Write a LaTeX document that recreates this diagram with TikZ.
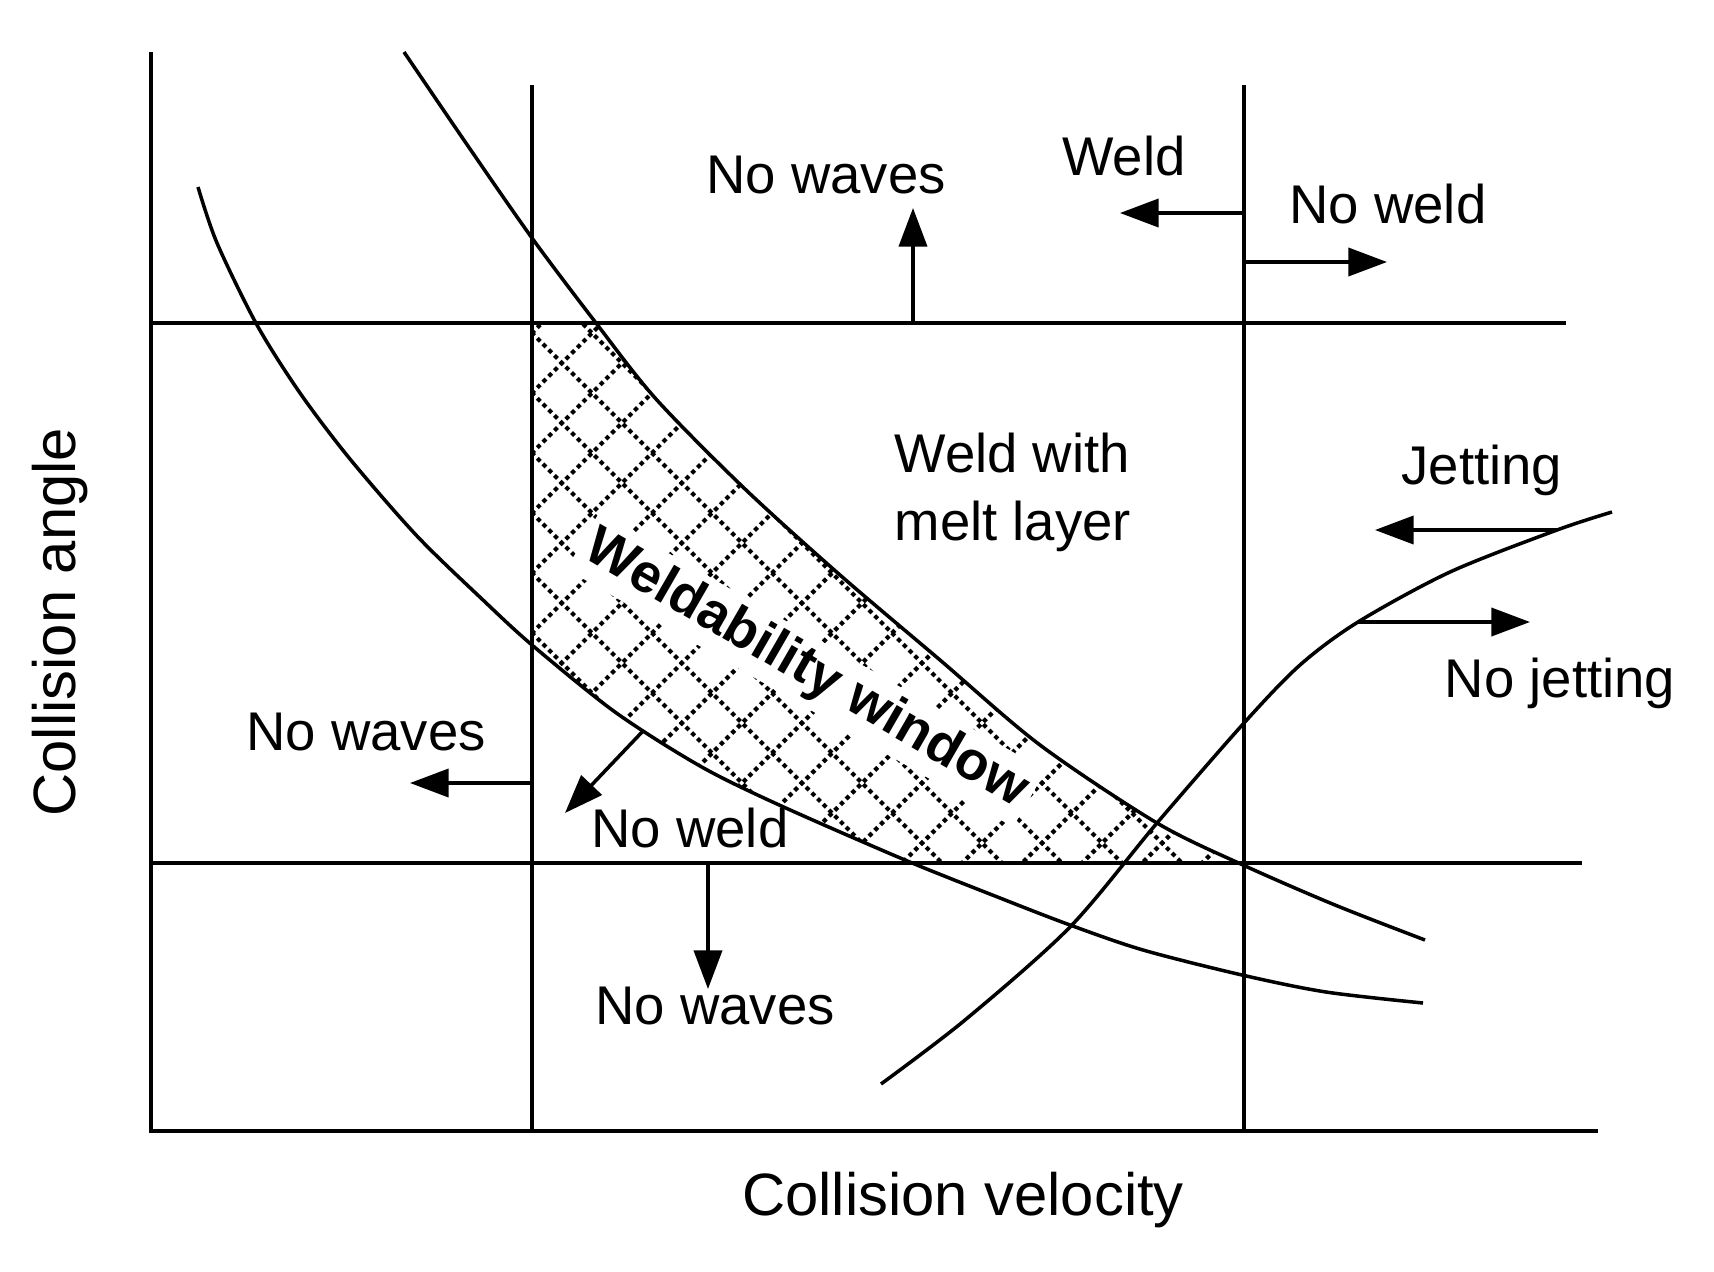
\documentclass[tikz,border=0pt]{standalone}
\usepackage{fontspec}
\setmainfont{Liberation Sans}
\usetikzlibrary{positioning,arrows.meta}

\tikzset{
  lbl/.style={inner sep=0pt,font=\fontsize{15.5}{19.3}\selectfont},
  axlbl/.style={inner sep=0pt,font=\fontsize{17}{20}\selectfont},
  arr/.style={line width=1pt,-{Triangle[length=11pt,width=8pt]}},
  hatch/.style={line width=1.2pt,dash pattern=on 1.2pt off 1.1pt},
}

\newcommand{\upperline}{plot[smooth] coordinates {(404,52) (468,146) (532,238) (596,323) (656,399) (745,489) (840,575) (940,660) (1040,745) (1157,823) (1243,865) (1335,905) (1425,940)}}
\newcommand{\lowerline}{plot[smooth] coordinates {(198,187) (217,243) (257,325) (300,393) (350,459) (417,536) (483,600) (532,645) (615,712) (700,766) (777,804) (905,860) (1000,898) (1070,925) (1143,950) (1242,975) (1326,992) (1423,1003)}}

\begin{document}
\begin{tikzpicture}[x=0.01cm,y=-0.01cm]
\useasboundingbox (0,0) rectangle (1714,1272);

% hatched window
\begin{scope}
\clip (532,323) rectangle (1244,863);
\clip \upperline -- (1425,1272) -- (0,1272) -- (0,52) -- cycle;
\clip \lowerline -- (1714,1003) -- (1714,0) -- (198,0) -- cycle;
\foreach \k in {-12,...,9}
  \draw[hatch] (400,{201+60*\k}) -- (1300,{1101+60*\k});
\foreach \k in {0,...,21}
  \draw[hatch] (400,{465+60*\k}) -- (1300,{-435+60*\k});
\end{scope}

\node[fill=white,inner sep=2pt,rotate=-30,font=\fontsize{15.5}{19}\selectfont\bfseries] (window) at (806,670) {Weldability window};

% frame lines
\draw[line width=1pt]
(151,323) coordinate (topL) --
(1566,323) coordinate (topR);
\draw[line width=1pt]
(151,863) coordinate (botL) --
(1582,863) coordinate (botR);
\draw[line width=1pt]
(532,85) coordinate (leftT) --
(532,1131) coordinate (leftB);
\draw[line width=1pt]
(1244,85) coordinate (rightT) --
(1244,1131) coordinate (rightB);

% axes
\draw[line width=1.4pt]
(151,52) coordinate (yend) --
(151,1131) coordinate (origin) --
(1598,1131) coordinate (xend);

% curves
\draw[line width=1pt] \upperline;
\draw[line width=1pt] \lowerline;
\draw[line width=1pt] plot[smooth] coordinates {(881,1084) (965,1020) (1070,927) (1157,823) (1244,723) (1300,665) (1358,622) (1450,572) (1557,530) (1612,512)};

% arrows
\coordinate (upbase) at (913,323);
\coordinate (uptip) at (913,208);
\draw[arr] (upbase) -- (uptip);
\coordinate (weldbase) at (1244,213);
\coordinate (weldtip) at (1120,213);
\draw[arr] (weldbase) -- (weldtip);
\coordinate (noweldbase) at (1244,262);
\coordinate (noweldtip) at (1387,262);
\draw[arr] (noweldbase) -- (noweldtip);
\coordinate (jetbase) at (1557,530);
\coordinate (jettip) at (1375,530);
\draw[arr] (jetbase) -- (jettip);
\coordinate (nojetbase) at (1358,622);
\coordinate (nojettip) at (1530,622);
\draw[arr] (nojetbase) -- (nojettip);
\coordinate (leftbase) at (532,783);
\coordinate (lefttip) at (410,783);
\draw[arr] (leftbase) -- (lefttip);
\coordinate (diagbase) at (643,731);
\coordinate (diagtip) at (565,813);
\draw[arr] (diagbase) -- (diagtip);
\coordinate (downbase) at (708,863);
\coordinate (downtip) at (708,989);
\draw[arr] (downbase) -- (downtip);

% labels
\node[lbl] (wavestop) at (826,175) {No waves};
\node[lbl] (weld) at (1124,156) {Weld};
\node[lbl] (noweldtop) at (1388,204) {No weld};
\node[lbl,align=left,anchor=west] (melt) at (894,492) {Weld with\\melt layer};
\node[lbl] (jetting) at (1482,470) {Jetting};
\node[lbl] (nojetting) at (1560,683) {No jetting};
\node[lbl] (wavesleft) at (366,732) {No waves};
\node[lbl] (noweldmid) at (690,828) {No weld};
\node[lbl] (wavesbot) at (715,1006) {No waves};

\node[axlbl,rotate=90] (angle) at (60,622) {Collision angle};
\node[axlbl] (velocity) at (963,1200) {Collision velocity};

\end{tikzpicture}
\end{document}
